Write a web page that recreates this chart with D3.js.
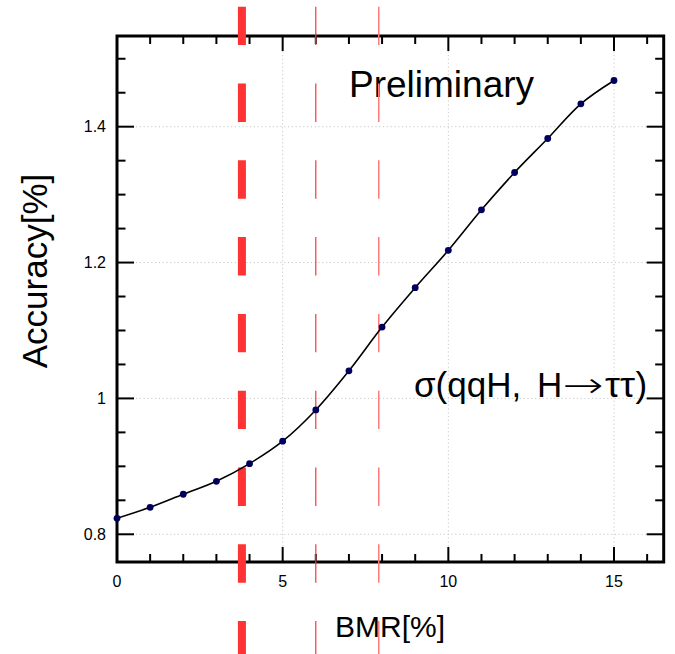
<!DOCTYPE html>
<html>
<head>
<meta charset="utf-8">
<script src="https://cdn.jsdelivr.net/npm/d3@7"></script>
<style>
  body { margin: 0; background: #fff; }
  svg text { font-family: "Liberation Sans", Arial, sans-serif; fill: #000; }
</style>
</head>
<body>
<svg id="chart" width="675" height="654"></svg>
<script>
// BMR[%] vs accuracy[%]
const bmr = [0, 1, 2, 3, 4, 5, 6, 7, 8, 9, 10, 11, 12, 13, 14, 15]
const accuracy = [0.8235, 0.8397, 0.8589, 0.878, 0.904, 0.937, 0.983, 1.0406,
                  1.105, 1.163, 1.218, 1.2776, 1.3326, 1.3826, 1.4336, 1.468]
const xTicks = [0, 5, 10, 15]
const yTicks = [0.8, 1.0, 1.2, 1.4]
const yTickLabels = ['0.8', '1', '1.2', '1.4']
// vertical reference lines (BMR values)
const refLines = [3.77, 6.0, 7.9]

const svg = d3.select('#chart')
const pL = 117, pR = 663.7, pT = 36, pB = 562

const x = d3.scaleLinear().domain([0, 16.5]).range([pL, pR])
const y = d3.scaleLinear().domain([0.7592, 1.5335]).range([pB, pT])

// grid
const grid = svg.append('g').attr('stroke', '#c8c8c8').attr('stroke-width', 1)
  .attr('stroke-dasharray', '1.2,2.6')
grid.selectAll('.gx').data(xTicks.filter(d => d > 0)).join('line')
  .attr('x1', d => x(d)).attr('x2', d => x(d))
  .attr('y1', pT).attr('y2', pB)
grid.selectAll('.gy').data(yTicks).join('line')
  .attr('x1', pL).attr('x2', pR)
  .attr('y1', d => y(d)).attr('y2', d => y(d))

// ticks on all four sides, pointing inward
const minorX = d3.range(0, 17, 1)
const minorY = d3.range(0.8, 1.53, 0.05)
const tk = svg.append('g').attr('stroke', '#000').attr('stroke-width', 2)
minorX.forEach(v => {
  const len = v % 5 === 0 ? 15 : 8
  tk.append('line').attr('x1', x(v)).attr('x2', x(v)).attr('y1', pB).attr('y2', pB - len)
  tk.append('line').attr('x1', x(v)).attr('x2', x(v)).attr('y1', pT).attr('y2', pT + len)
})
minorY.forEach(v => {
  const major = Math.abs(Math.round(v * 100) % 20) === 0
  const len = major ? 17 : 8.5
  tk.append('line').attr('x1', pL).attr('x2', pL + len).attr('y1', y(v)).attr('y2', y(v))
  tk.append('line').attr('x1', pR).attr('x2', pR - len).attr('y1', y(v)).attr('y2', y(v))
})

// frame
svg.append('rect')
  .attr('x', pL).attr('y', pT)
  .attr('width', pR - pL).attr('height', pB - pT)
  .attr('fill', 'none').attr('stroke', '#000').attr('stroke-width', 3)

// tick labels
svg.append('g').selectAll('text').data(xTicks).join('text')
  .attr('x', d => x(d)).attr('y', 587)
  .attr('text-anchor', 'middle').attr('font-size', 16)
  .text(d => d)
svg.append('g').selectAll('text').data(yTicks).join('text')
  .attr('x', 106).attr('y', d => y(d)).attr('dy', '0.36em')
  .attr('text-anchor', 'end').attr('font-size', 16)
  .text((d, i) => yTickLabels[i])

// axis titles
svg.append('text').attr('x', 390).attr('y', 637)
  .attr('text-anchor', 'middle').attr('font-size', 30).text('BMR[%]')
svg.append('text')
  .attr('transform', 'translate(47,271) rotate(-90)')
  .attr('text-anchor', 'middle').attr('font-size', 35).text('Accuracy[%]')

// labels in the plot
svg.append('text').attr('x', 349).attr('y', 97).attr('font-size', 37).text('Preliminary')
// σ(qqH, H→ττ) laid out piece by piece (latex-like spacing)
const proc = svg.append('g').attr('font-size', 35)
proc.append('text').attr('x', 414).attr('y', 397).text('σ(qqH,')
proc.append('text').attr('x', 537).attr('y', 397).text('H')
proc.append('text').attr('transform', 'translate(562.5,397) scale(1.4,1)')
  .style('font-family', '"DejaVu Sans", sans-serif').attr('font-weight', 300).text('→')
proc.append('text').attr('x', 605).attr('y', 397).attr('textLength', 30)
  .attr('lengthAdjust', 'spacingAndGlyphs').text('ττ')
proc.append('text').attr('x', 635.5).attr('y', 397).text(')')

// red dashed reference lines
const refStyle = [
  { color: '#ff3333', width: 8 },
  { color: '#ee3b3b', width: 1.2 },
  { color: '#ff7a7a', width: 1.5 }
]
svg.append('g').selectAll('line').data(refLines).join('line')
  .attr('x1', d => x(d)).attr('x2', d => x(d))
  .attr('y1', 6.7).attr('y2', 654)
  .attr('stroke', (d, i) => refStyle[i].color)
  .attr('stroke-width', (d, i) => refStyle[i].width)
  .attr('stroke-dasharray', '38.4,38.4')

// curve + points
const pts = bmr.map((b, i) => [b, accuracy[i]])
const line = d3.line().x(d => x(d[0])).y(d => y(d[1])).curve(d3.curveCatmullRom.alpha(0.5))
svg.append('path').datum(pts)
  .attr('d', line).attr('fill', 'none')
  .attr('stroke', '#000').attr('stroke-width', 1.6)
svg.append('g').selectAll('circle').data(pts).join('circle')
  .attr('cx', d => x(d[0])).attr('cy', d => y(d[1])).attr('r', 3.4)
  .attr('fill', '#00005e')
</script>
</body>
</html>
